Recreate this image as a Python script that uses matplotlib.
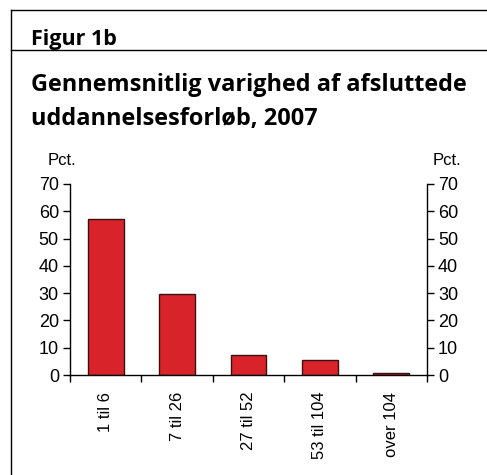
import matplotlib.pyplot as plt
import numpy as np
from matplotlib.lines import Line2D

# Data
categories = ['1 til 6', '7 til 26', '27 til 52', '53 til 104', 'over 104']
values = [57.0, 29.6, 7.2, 5.4, 0.7]
y_ticks = [0, 10, 20, 30, 40, 50, 60, 70]

W, H = 487, 475
fig = plt.figure(figsize=(W / 100, H / 100), dpi=100)

def fx(px):
    return px / W

def fy(py):
    return 1 - py / H

# Frame lines
fig.add_artist(Line2D([fx(11), fx(11)], [fy(10), fy(475)], color='black', lw=1))
fig.add_artist(Line2D([fx(11), 1], [fy(10), fy(10)], color='black', lw=1))
fig.add_artist(Line2D([fx(11), 1], [fy(50), fy(50)], color='black', lw=1))

# Headings
fig.text(fx(31), fy(45), 'Figur 1b', fontsize=15.5, fontweight='bold',
         family='Open Sans', ha='left', va='baseline')
fig.text(fx(31), fy(91), 'Gennemsnitlig varighed af afsluttede', fontsize=16.9,
         fontweight='bold', family='Open Sans', ha='left', va='baseline')
fig.text(fx(31), fy(125), 'uddannelsesforløb, 2007', fontsize=16.9,
         fontweight='bold', family='Open Sans', ha='left', va='baseline')

# Axes
ax = fig.add_axes([fx(70), fy(375), fx(427) - fx(70), fy(184) - fy(375)])
x = np.arange(len(categories))
ax.bar(x, values, width=0.5, color='#d9232a', edgecolor='#3a1010', linewidth=1)

ax.set_xlim(-0.5, len(categories) - 0.5)
ax.set_ylim(0, 70)
ax.set_yticks(y_ticks)
ax.spines['top'].set_visible(False)
for s in ['left', 'right', 'bottom']:
    ax.spines[s].set_linewidth(1)

ax.tick_params(axis='y', which='both', direction='out', length=5, width=1,
               labelsize=13, left=True, right=True, labelleft=True, labelright=True, pad=3)
ax.set_yticklabels([str(t) for t in y_ticks], family='Liberation Sans')

# x ticks at category boundaries, labels at centres
ax.set_xticks(np.arange(-0.5, len(categories)), minor=False)
ax.set_xticklabels([])
ax.set_xticks(x, minor=True)
ax.set_xticklabels(categories, minor=True, rotation=90, fontsize=12, family='Liberation Sans')
ax.tick_params(axis='x', which='major', direction='out', length=5, width=1)
ax.tick_params(axis='x', which='minor', length=0, pad=12)

fig.text(fx(48), fy(165), 'Pct.', fontsize=12, family='Liberation Sans', ha='left', va='baseline')
fig.text(fx(433), fy(165), 'Pct.', fontsize=12, family='Liberation Sans', ha='left', va='baseline')

fig.savefig('out.png', dpi=100)
